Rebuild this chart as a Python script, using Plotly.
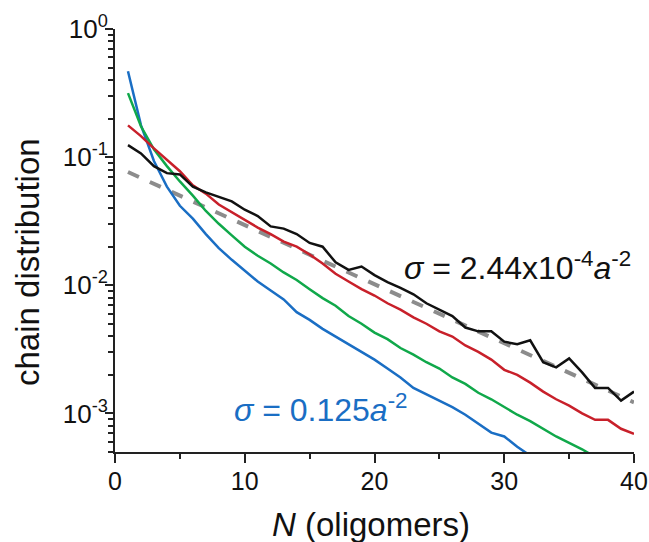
import plotly.graph_objects as go

N = list(range(1, 41))

black_sim = [0.124, 0.107, 0.0851, 0.0750, 0.0733, 0.0589, 0.0531, 0.0490, 0.0452, 0.0389,
             0.0347, 0.0288, 0.0277, 0.0251, 0.0214, 0.0200, 0.0151, 0.0132, 0.0140, 0.0120,
             0.0106, 0.00955, 0.00851, 0.00724, 0.00646, 0.00575, 0.00468, 0.00437, 0.00437, 0.00363,
             0.00347, 0.00372, 0.00251, 0.00229, 0.00269, 0.00209, 0.00158, 0.00158, 0.00126, 0.00148]

gray_fit = [0.0765, 0.0689, 0.0619, 0.0557, 0.0501, 0.0450, 0.0405, 0.0364, 0.0327, 0.0294,
            0.0265, 0.0238, 0.0214, 0.0193, 0.0173, 0.0156, 0.0140, 0.0126, 0.0113, 0.0102,
            0.00916, 0.00824, 0.00741, 0.00667, 0.00600, 0.00539, 0.00485, 0.00436, 0.00392, 0.00353,
            0.00317, 0.00285, 0.00256, 0.00231, 0.00207, 0.00187, 0.00168, 0.00151, 0.00136, 0.00122]

red_sim = [0.177, 0.146, 0.117, 0.0955, 0.0776, 0.0603, 0.0519, 0.0427, 0.0372, 0.0324,
           0.0282, 0.0251, 0.0219, 0.0200, 0.0174, 0.0148, 0.0123, 0.0107, 0.00933, 0.00832,
           0.00724, 0.00646, 0.00562, 0.00501, 0.00437, 0.00398, 0.00339, 0.00302, 0.00263, 0.00219,
           0.00200, 0.00174, 0.00148, 0.00129, 0.00115, 0.00100, 0.000891, 0.000891, 0.000759, 0.000692]

green_sim = [0.316, 0.174, 0.115, 0.0851, 0.0646, 0.0501, 0.0380, 0.0302, 0.0245, 0.0200,
             0.0170, 0.0148, 0.0126, 0.0110, 0.00933, 0.00794, 0.00692, 0.00575, 0.00501, 0.00427,
             0.00380, 0.00324, 0.00288, 0.00251, 0.00224, 0.00191, 0.00170, 0.00145, 0.00129, 0.00112,
             0.000977, 0.000871, 0.000759, 0.000661, 0.000589, 0.000525, 0.000457]

blue_sim = [0.468, 0.178, 0.0933, 0.0589, 0.0417, 0.0331, 0.0251, 0.0195, 0.0158, 0.0129,
            0.0107, 0.00912, 0.00776, 0.00617, 0.00537, 0.00457, 0.00398, 0.00347, 0.00302, 0.00263,
            0.00224, 0.00191, 0.00158, 0.00141, 0.00126, 0.00112, 0.000977, 0.000832, 0.000708, 0.000661,
            0.000550, 0.000468]

y_tickvals = [1, 0.1, 0.01, 0.001]
y_ticktext = ["10<sup>0</sup>", "10<sup>-1</sup>", "10<sup>-2</sup>", "10<sup>-3</sup>"]
x_tickvals = [0, 10, 20, 30, 40]

FONT = "Arial, 'Liberation Sans', sans-serif"
C_BLACK = "#111111"
C_GRAY = "#8c8c8c"
C_RED = "#c8202a"
C_GREEN = "#10a84a"
C_BLUE = "#1a6ec4"

fig = go.Figure()
fig.add_trace(go.Scatter(x=N[:len(gray_fit)], y=gray_fit, mode="lines",
                         line=dict(color=C_GRAY, width=4, dash="dash")))
fig.add_trace(go.Scatter(x=N[:len(blue_sim)], y=blue_sim, mode="lines",
                         line=dict(color=C_BLUE, width=2.5)))
fig.add_trace(go.Scatter(x=N[:len(green_sim)], y=green_sim, mode="lines",
                         line=dict(color=C_GREEN, width=2.5)))
fig.add_trace(go.Scatter(x=N[:len(red_sim)], y=red_sim, mode="lines",
                         line=dict(color=C_RED, width=2.5)))
fig.add_trace(go.Scatter(x=N[:len(black_sim)], y=black_sim, mode="lines",
                         line=dict(color=C_BLACK, width=2.5)))

minor_y = [m * 10 ** e for e in (-4, -3, -2, -1) for m in range(2, 10)]

fig.update_layout(
    width=649, height=542,
    margin=dict(l=115, r=15, t=29, b=90),
    paper_bgcolor="white", plot_bgcolor="white",
    showlegend=False,
    font=dict(family=FONT, color="#111111", size=26),
    xaxis=dict(
        range=[0, 40], showgrid=False, zeroline=False, automargin=False,
        showline=True, linecolor="#222222", linewidth=2,
        tickmode="array", tickvals=x_tickvals,
        ticks="outside", ticklen=9, tickwidth=2, tickcolor="#222222",
        tickfont=dict(size=25, family=FONT, color="#111111"),
        ticklabelstandoff=-3,
        minor=dict(ticks="outside", ticklen=5, tickwidth=2, tickcolor="#222222",
                   tickmode="array", tickvals=[5, 15, 25, 35]),
    ),
    yaxis=dict(
        type="log", range=[-3.301, 0], showgrid=False, zeroline=False, automargin=False,
        showline=True, linecolor="#222222", linewidth=2,
        tickmode="array", tickvals=y_tickvals, ticktext=y_ticktext,
        ticks="outside", ticklen=8, tickwidth=2, tickcolor="#222222",
        tickfont=dict(size=26, family=FONT, color="#111111"),
        ticklabelstandoff=-8,
        minor=dict(ticks="outside", ticklen=5, tickwidth=1.5, tickcolor="#222222",
                   tickmode="array", tickvals=minor_y),
    ),
    annotations=[
        dict(x=27, y=262, xref="paper", yref="paper", showarrow=False,
             text="chain distribution", textangle=-90,
             xanchor="center", yanchor="middle",
             font=dict(size=33, family=FONT, color="#111111")),
        dict(x=22.1, y=-1.853, xref="x", yref="y", xanchor="left", yanchor="middle",
             text="<i>σ</i> = 2.44x10<sup>-4</sup><i>a</i><sup>-2</sup>", showarrow=False,
             font=dict(size=32, family=FONT, color="#111111")),
        dict(x=9.0, y=-2.961, xref="x", yref="y", xanchor="left", yanchor="middle",
             text="<i>σ</i> = 0.125<i>a</i><sup>-2</sup>", showarrow=False,
             font=dict(size=32, family=FONT, color=C_BLUE)),
    ],
)

# place axis titles in pixel terms converted to paper coords
W, H = 649, 542
L, R, T, B = 115, 15, 29, 90
pw, ph = W - L - R, H - T - B
ann = list(fig.layout.annotations)
ann[0].update(x=(27 - L) / pw, y=1 - (262 - T) / ph)
fig.layout.annotations = ann
fig.add_annotation(x=(371 - L) / pw, y=1 - (524 - T) / ph, xref="paper", yref="paper",
                   showarrow=False, text="<i>N</i> (oligomers)", xanchor="center", yanchor="middle",
                   font=dict(size=33, family=FONT, color="#111111"))

fig.write_html("out.html")
